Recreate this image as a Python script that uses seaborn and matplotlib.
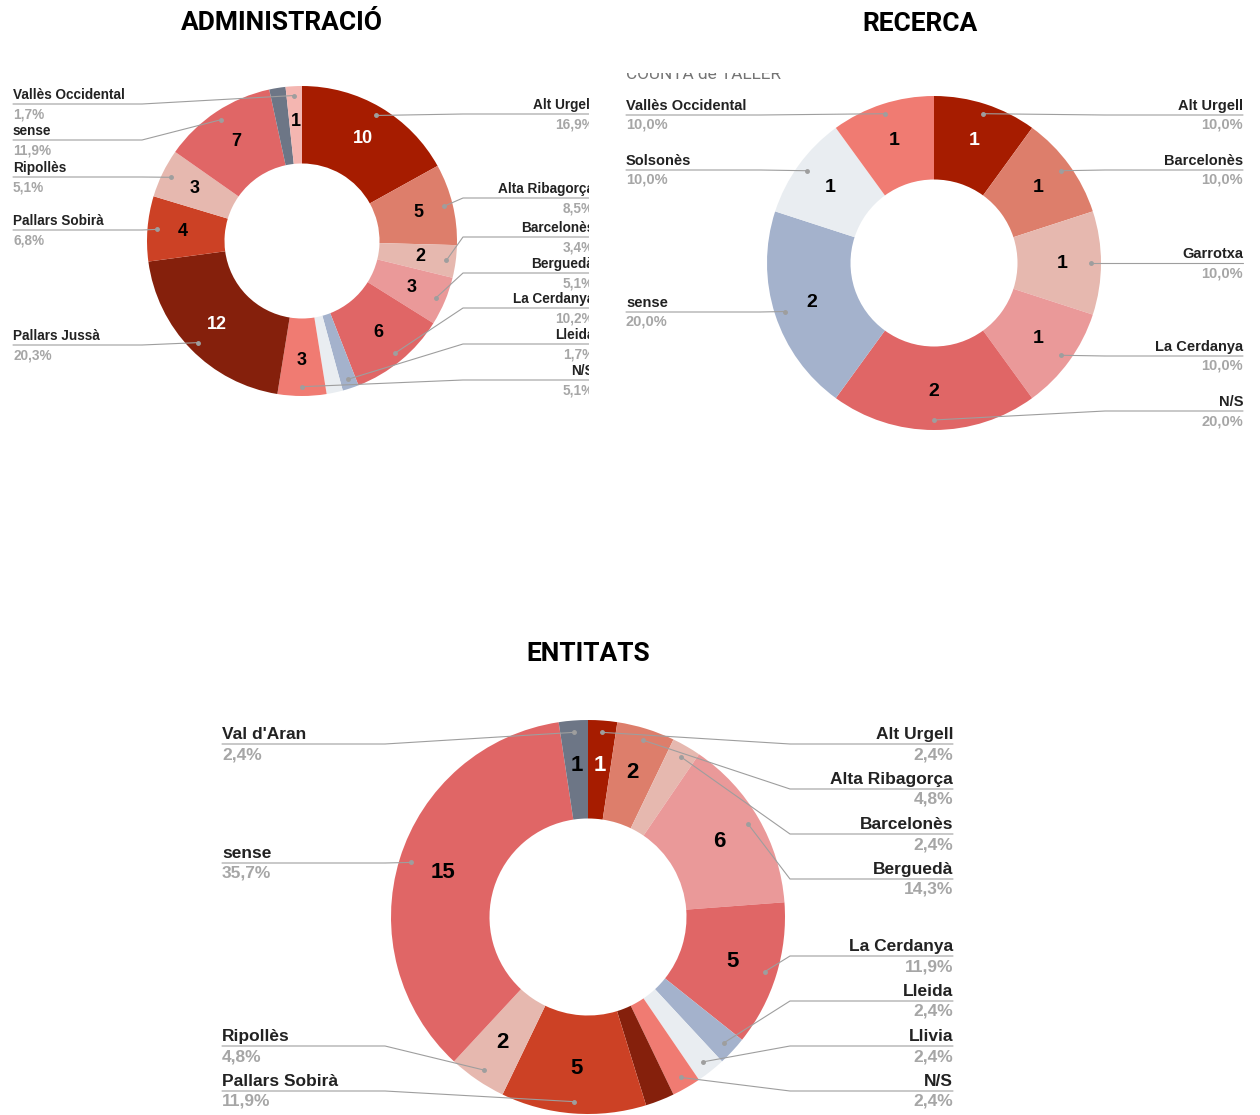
import numpy as np
import matplotlib.pyplot as plt
import seaborn as sns

sns.set_theme(style="white")
plt.rcParams['font.family'] = ['Liberation Sans', 'DejaVu Sans']

W, H = 1260, 1115

# Slice colours go by position in the chart (same order in all three)
palette = sns.color_palette(['#A61C00', '#DD7E6B', '#E6B8AF', '#EA9999', '#E06666',
                             '#A4B2CC', '#E9EDF1', '#F07B72', '#85200C', '#CC4125',
                             '#E6B8AF', '#E06666', '#6D7686', '#F4B6B1'])
dark_slots = {0, 8}

# --- data ---
admin_labels = ['Alt Urgell', 'Alta Ribagorça', 'Barcelonès', 'Berguedà', 'La Cerdanya',
                'Lleida', 'Llivia', 'N/S', 'Pallars Jussà', 'Pallars Sobirà', 'Ripollès',
                'sense', "Val d'Aran", 'Vallès Occidental']
admin_values = [10, 5, 2, 3, 6, 1, 1, 3, 12, 4, 3, 7, 1, 1]

recerca_labels = ['Alt Urgell', 'Barcelonès', 'Garrotxa', 'La Cerdanya', 'N/S', 'sense',
                  'Solsonès', 'Vallès Occidental']
recerca_values = [1, 1, 1, 1, 2, 2, 1, 1]

entitats_labels = ['Alt Urgell', 'Alta Ribagorça', 'Barcelonès', 'Berguedà', 'La Cerdanya',
                   'Lleida', 'Llivia', 'N/S', 'Pallars Jussà', 'Pallars Sobirà', 'Ripollès',
                   'sense', "Val d'Aran"]
entitats_values = [1, 2, 1, 6, 5, 1, 1, 1, 1, 5, 2, 15, 1]

# --- layout (pixels, origin top-left) ---
charts = [
    dict(title='ADMINISTRACIÓ', title_xy=(282, 23), labels=admin_labels, values=admin_values,
         box=(0, 45, 589, 460), center=(302, 241), r=155,
         left_x=13, right_x=594, elbow=(142, 463), fs=9.8, vfs=13,
         hide={5, 6, 12}, clip_right=True,
         place={0: ('R', 114), 1: ('R', 198), 2: ('R', 237), 3: ('R', 273), 4: ('R', 308),
                5: ('R', 344), 7: ('R', 380), 8: ('L', 345), 9: ('L', 230),
                10: ('L', 177), 11: ('L', 140), 13: ('L', 104)}),
    dict(title='RECERCA', title_xy=(920, 24), labels=recerca_labels, values=recerca_values,
         box=(600, 73, 1260, 460), center=(934, 263), r=167,
         left_x=626, right_x=1243, elbow=(760, 1105), fs=10.5, vfs=14,
         hide=set(), clip_right=False,
         place={0: ('R', 115), 1: ('R', 170), 2: ('R', 263), 3: ('R', 356), 4: ('R', 411),
                5: ('L', 312), 6: ('L', 170), 7: ('L', 115)}),
    dict(title='ENTITATS', title_xy=(588, 654), labels=entitats_labels, values=entitats_values,
         box=(0, 680, 1260, 1115), center=(588, 917), r=197,
         left_x=222, right_x=953, elbow=(385, 790), fs=12.5, vfs=16,
         hide={2, 5, 6, 7, 8}, clip_right=False,
         place={0: ('R', 744), 1: ('R', 789), 2: ('R', 834), 3: ('R', 879), 4: ('R', 956),
                5: ('R', 1001), 6: ('R', 1046), 7: ('R', 1091), 9: ('L', 1091),
                10: ('L', 1046), 11: ('L', 863), 12: ('L', 744)}),
]

fig = plt.figure(figsize=(W / 100, H / 100), dpi=100)

for c in charts:
    x0, y0, x1, y1 = c['box']
    ax = fig.add_axes([x0 / W, 1 - y1 / H, (x1 - x0) / W, (y1 - y0) / H])
    vals = np.array(c['values'], dtype=float)
    total = vals.sum()
    cx, cy = c['center'][0], H - c['center'][1]
    r = c['r']

    ax.pie(vals, colors=palette[:len(vals)], startangle=90, counterclock=False,
           radius=r, center=(cx, cy), wedgeprops=dict(width=r * 0.5, edgecolor='none'))
    ax.set_xlim(x0, x1)
    ax.set_ylim(H - y1, H - y0)
    ax.set_aspect('auto')
    ax.axis('off')

    mids = 90 - 360 * (np.cumsum(vals) - vals / 2) / total
    for i, (lab, v, a) in enumerate(zip(c['labels'], vals, np.radians(mids))):
        if i not in c['hide']:
            ax.text(cx + 0.77 * r * np.cos(a), cy + 0.77 * r * np.sin(a), f"{int(v)}",
                    ha='center', va='center', fontsize=c['vfs'], fontweight='bold',
                    color='white' if i in dark_slots else 'black')
        if i not in c['place']:
            continue
        side, ly = c['place'][i]
        ly = H - ly
        dx, dy = cx + 0.94 * r * np.cos(a), cy + 0.94 * r * np.sin(a)
        ex = c['elbow'][0] if side == 'L' else c['elbow'][1]
        tx = c['left_x'] if side == 'L' else c['right_x']
        ha = 'left' if side == 'L' else 'right'
        clip = c['clip_right'] and side == 'R'
        ax.plot([dx, ex, tx], [dy, ly, ly], color='#9E9E9E', lw=0.8)
        ax.plot(dx, dy, 'o', color='#9E9E9E', ms=2.5)
        ax.text(tx, ly + 2, lab, ha=ha, va='bottom', fontsize=c['fs'], fontweight='bold',
                color='#222222', clip_on=clip)
        ax.text(tx, ly - 3, f"{100 * v / total:.1f}%".replace('.', ','), ha=ha, va='top',
                fontsize=c['fs'], fontweight='bold', color='#A6A6A6', clip_on=clip)

    if c['title'] == 'RECERCA':
        # axis caption that is cut off by the chart area
        ax.text(626, H - 79, 'COUNTA de TALLER', ha='left', va='baseline', fontsize=12.4,
                color='#757575', family=['Roboto', 'DejaVu Sans'], clip_on=True)

    fig.text(c['title_xy'][0] / W, 1 - c['title_xy'][1] / H, c['title'], ha='center',
             va='center', fontsize=19, fontweight='bold', color='black',
             family=['Roboto', 'DejaVu Sans'])

fig.savefig('out.png', dpi=100)
